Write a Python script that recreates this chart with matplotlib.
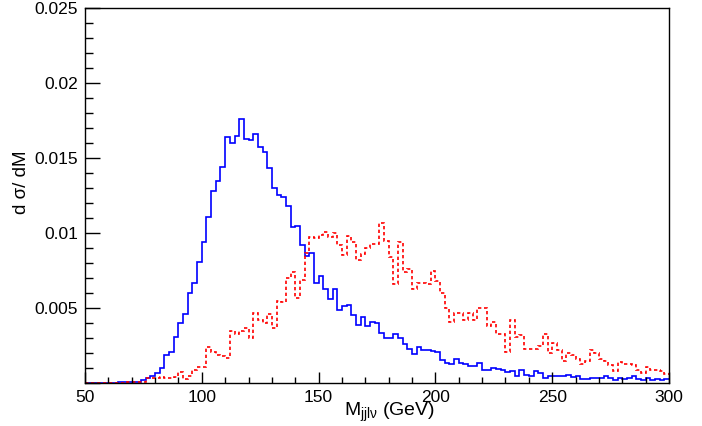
import numpy as np
import matplotlib
matplotlib.use('Agg')
import matplotlib.pyplot as plt
from matplotlib.ticker import MultipleLocator, FixedLocator, FixedFormatter

plt.rcParams['font.family'] = ['Liberation Sans', 'DejaVu Sans']
plt.rcParams['mathtext.fontset'] = 'custom'
plt.rcParams['mathtext.rm'] = 'Liberation Sans'

# binning: 2 GeV bins from 50 to 300
edges = np.arange(50, 302, 2)

# blue (solid) histogram, one value per bin
blue = [
    0, 0, 0, 0, 0, 0, 0, 0.00005, 0.00005, 0.0001,              # 50-70
    0.0001, 0.0001, 0.00018, 0.00033, 0.0005, 0.0007, 0.001, 0.0019, 0.0021, 0.0031,   # 70-90
    0.004, 0.0046, 0.006, 0.0067, 0.0081, 0.0094, 0.0111, 0.0128, 0.0135, 0.0144,     # 90-110
    0.0164, 0.016, 0.0165, 0.0176, 0.01625, 0.0162, 0.0166, 0.01575, 0.0154, 0.01435, # 110-130
    0.013, 0.01255, 0.0124, 0.0118, 0.0104, 0.0105, 0.0092, 0.00846, 0.0087, 0.0067,  # 130-150
    0.00714, 0.00625, 0.00563, 0.00626, 0.0049, 0.00515, 0.00518, 0.00455, 0.00384, 0.00437,  # 150-170
    0.0038, 0.00407, 0.00397, 0.00332, 0.003, 0.003, 0.0033, 0.003, 0.00263, 0.0023,  # 170-190
    0.00196, 0.0024, 0.00223, 0.00223, 0.00214, 0.00207, 0.00152, 0.00135, 0.00124, 0.00163,  # 190-210
    0.00134, 0.00124, 0.00111, 0.00111, 0.00136, 0.00089, 0.00089, 0.001, 0.00093, 0.00087,  # 210-230
    0.00076, 0.0008, 0.00045, 0.00085, 0.00053, 0.00045, 0.0008, 0.00067, 0.00036, 0.00045,  # 230-250
    0.00047, 0.00047, 0.00047, 0.00053, 0.0004, 0.00045, 0.00029, 0.00027, 0.00031, 0.00031,  # 250-270
    0.00031, 0.00045, 0.00031, 0.00022, 0.00031, 0.00027, 0.00036, 0.00045, 0.00025, 0.00018,  # 270-290
    0.00033, 0.00018, 0.00027, 0.00022, 0.00027,                  # 290-300
]

# red (dashed) histogram
red = [
    0, 0, 0, 0, 0, 0, 0, 0, 0, 0.00005,                          # 50-70
    0.00007, 0.00007, 0.0001, 0.00033, 0.00033, 0.00036, 0.00038, 0.00036, 0.00036, 0.0004,  # 70-90
    0.00073, 0.00025, 0.0005, 0.0009, 0.0011, 0.0011, 0.0024, 0.0021, 0.0019, 0.0018,  # 90-110
    0.0017, 0.0035, 0.0033, 0.0035, 0.0037, 0.003, 0.0047, 0.0042, 0.004, 0.0046,     # 110-130
    0.0037, 0.0055, 0.0054, 0.007, 0.0074, 0.0057, 0.0069, 0.0087, 0.00975, 0.00964,  # 130-150
    0.00986, 0.01008, 0.00975, 0.01, 0.0092, 0.00853, 0.0098, 0.0094, 0.0082, 0.0086, # 150-170
    0.009, 0.0093, 0.0093, 0.01064, 0.0095, 0.0084, 0.0066, 0.0094, 0.0074, 0.0076,   # 170-190
    0.0063, 0.0067, 0.0067, 0.0066, 0.0075, 0.0068, 0.006, 0.005, 0.0041, 0.0047,     # 190-210
    0.0047, 0.0042, 0.0047, 0.0042, 0.005, 0.005, 0.0038, 0.0041, 0.0033, 0.0033,     # 210-230
    0.0021, 0.0042, 0.0031, 0.0032, 0.0023, 0.0023, 0.0023, 0.0025, 0.0033, 0.002,    # 230-250
    0.0027, 0.0022, 0.0015, 0.002, 0.0019, 0.0016, 0.00125, 0.00147, 0.0022, 0.002,   # 250-270
    0.0016, 0.0015, 0.0012, 0.0008, 0.0014, 0.00125, 0.0013, 0.0012, 0.0009, 0.00067, # 270-290
    0.00107, 0.0009, 0.0009, 0.0008, 0.0006,                      # 290-300
]

ytick_vals = [0, 0.005, 0.01, 0.015, 0.02, 0.025]
ytick_labels = ['', '0.005', '0.01', '0.015', '0.02', '0.025']

fig = plt.figure(figsize=(7.02, 4.26), dpi=100)
ax = fig.add_axes([85/702, 43/426, 584/702, 375/426])

ax.stairs(blue, edges, color='#0000ff', lw=1.2, baseline=None)
ax.stairs(red, edges, color='#ff0000', lw=1.2, linestyle=(0, (2, 1.6)), baseline=None)

ax.set_xlim(50, 300)
ax.set_ylim(0, 0.025)

ax.xaxis.set_major_locator(MultipleLocator(50))
ax.xaxis.set_minor_locator(MultipleLocator(10))
ax.yaxis.set_major_locator(FixedLocator(ytick_vals))
ax.yaxis.set_major_formatter(FixedFormatter(ytick_labels))
ax.yaxis.set_minor_locator(MultipleLocator(0.001))

ax.tick_params(which='both', direction='in', labelsize=12.5, top=False, right=False)
ax.tick_params(axis='y', which='major', length=11, width=1, pad=5)
ax.tick_params(axis='y', which='minor', length=5.5, width=1)
ax.tick_params(axis='x', which='major', length=8, width=1, pad=5)
ax.tick_params(axis='x', which='minor', length=4.5, width=1)
for s in ax.spines.values():
    s.set_linewidth(1)

fig.text(22/702, 1 - 182/426, 'd σ/ dM', rotation=90, ha='center', va='center', fontsize=13.5)
fig.text(390/702, 1 - 412/426, r'M$_{\mathregular{jjl\nu}}$ (GeV)', ha='center', va='center', fontsize=14)

fig.savefig('out.png', dpi=100)
